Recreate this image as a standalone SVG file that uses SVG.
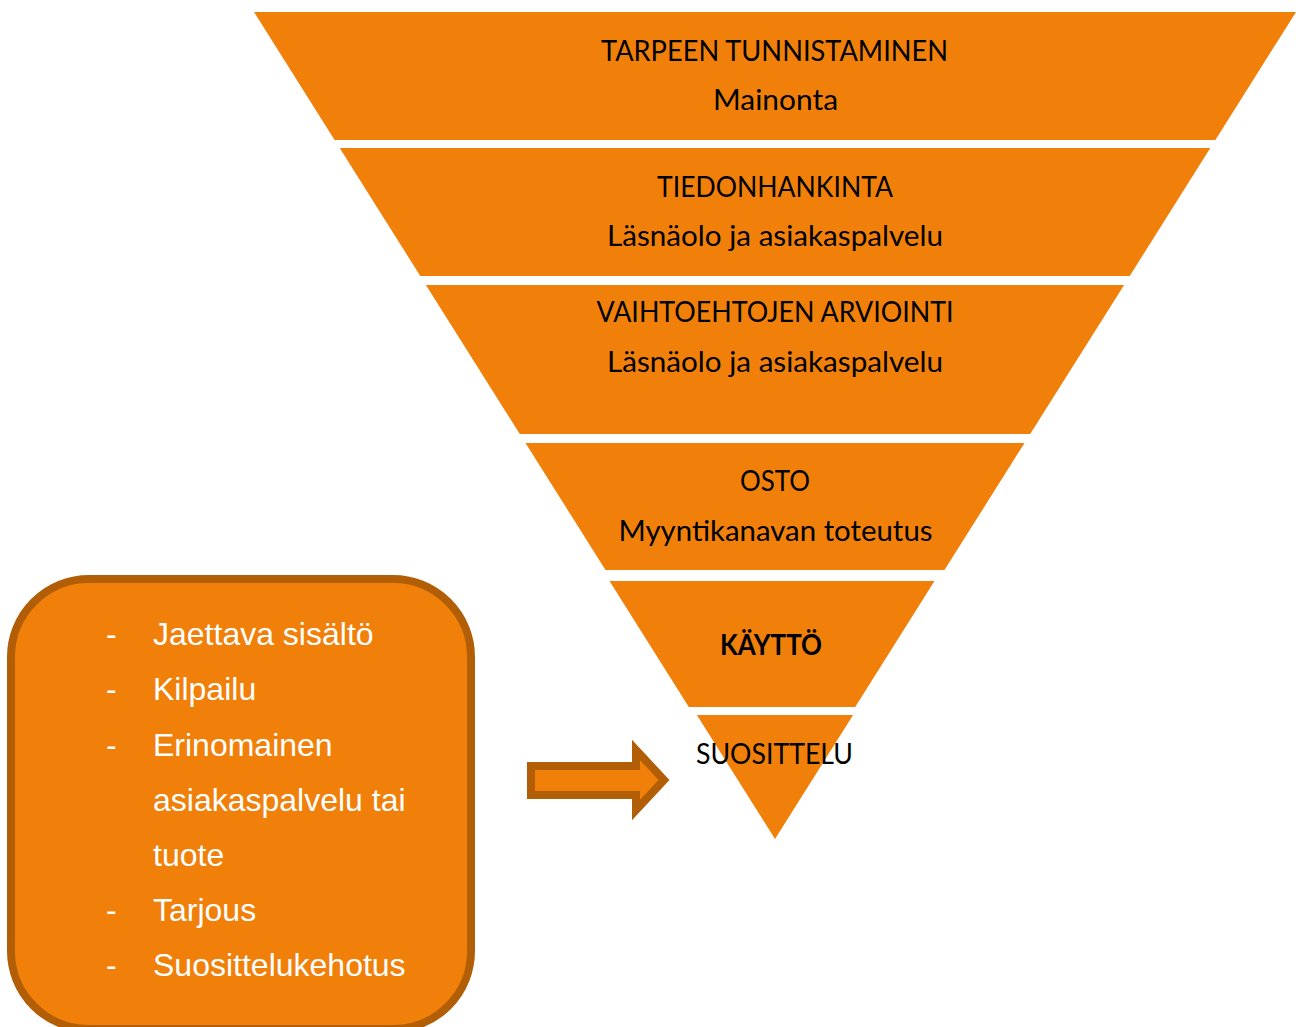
<svg xmlns="http://www.w3.org/2000/svg" width="1296" height="1027" viewBox="0 0 1296 1027">
  <style>
    .band { fill: #F0800A; }
    .lbl { font-family: Lato, "Liberation Sans", sans-serif; font-size: 28px; fill: #000; text-anchor: middle; }
    .bold { font-weight: bold; }
    .item { font-family: "Liberation Sans", Arial, sans-serif; font-size: 32px; fill: #fff; }
    .box { fill: #F0800A; stroke: #B25E07; stroke-width: 8; }
  </style>
  <rect width="1296" height="1027" fill="#fff"/>

  <!-- funnel stages, cut from one inverted triangle -->
  <g id="stage-tarpeen-tunnistaminen">
    <polygon class="band" points="254,12 1296,12 1215.4,140 334.6,140"/>
    <text class="lbl" x="774.5" y="61" textLength="347" lengthAdjust="spacingAndGlyphs">TARPEEN TUNNISTAMINEN</text>
    <text class="lbl" x="775.5" y="110" textLength="125" lengthAdjust="spacingAndGlyphs">Mainonta</text>
  </g>
  <g id="stage-tiedonhankinta">
    <polygon class="band" points="339.7,148 1210.3,148 1129.7,276 420.3,276"/>
    <text class="lbl" x="775" y="197" textLength="236" lengthAdjust="spacingAndGlyphs">TIEDONHANKINTA</text>
    <text class="lbl" x="775" y="246" textLength="336" lengthAdjust="spacingAndGlyphs">Läsnäolo ja asiakaspalvelu</text>
  </g>
  <g id="stage-vaihtoehtojen-arviointi">
    <polygon class="band" points="425.9,285 1124.1,285 1030.2,434 519.8,434"/>
    <text class="lbl" x="775" y="322" textLength="357" lengthAdjust="spacingAndGlyphs">VAIHTOEHTOJEN ARVIOINTI</text>
    <text class="lbl" x="775" y="372" textLength="336" lengthAdjust="spacingAndGlyphs">Läsnäolo ja asiakaspalvelu</text>
  </g>
  <g id="stage-osto">
    <polygon class="band" points="525.5,443 1024.5,443 944.5,570 605.5,570"/>
    <text class="lbl" x="775" y="491" textLength="70" lengthAdjust="spacingAndGlyphs">OSTO</text>
    <text class="lbl" x="775.5" y="541" textLength="314" lengthAdjust="spacingAndGlyphs">Myyntikanavan toteutus</text>
  </g>
  <g id="stage-kaytto">
    <polygon class="band" points="609.5,581 934.5,581 855.2,707 688.8,707"/>
    <text class="lbl bold" x="771" y="655" textLength="102" lengthAdjust="spacingAndGlyphs">KÄYTTÖ</text>
  </g>
  <g id="stage-suosittelu">
    <polygon class="band" points="696.9,715 853.1,715 775,839"/>
    <text class="lbl" x="774.5" y="764" textLength="157" lengthAdjust="spacingAndGlyphs">SUOSITTELU</text>
  </g>

  <!-- list of recommendation drivers -->
  <g id="drivers-box">
    <rect class="box" x="11" y="579" width="460" height="450" rx="78" ry="78"/>
    <g class="item">
      <text x="106" y="645">-</text><text x="153" y="645">Jaettava sisältö</text>
      <text x="106" y="700">-</text><text x="153" y="700">Kilpailu</text>
      <text x="106" y="755.5">-</text><text x="153" y="755.5">Erinomainen</text>
      <text x="153" y="810.5">asiakaspalvelu tai</text>
      <text x="153" y="866">tuote</text>
      <text x="106" y="921">-</text><text x="153" y="921">Tarjous</text>
      <text x="106" y="976">-</text><text x="153" y="976">Suosittelukehotus</text>
    </g>
  </g>

  <!-- block arrow from the list to the last stage -->
  <g id="connectors">
    <path class="box" stroke-linejoin="miter" d="M531,766 L636,766 L636,750 L664,780 L636,810 L636,795 L531,795 Z"/>
  </g>
</svg>
